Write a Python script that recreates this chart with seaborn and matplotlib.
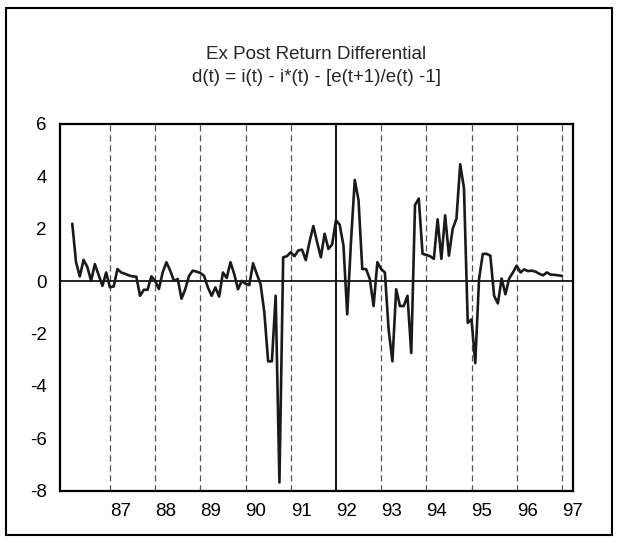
import numpy as np
import pandas as pd
import matplotlib
matplotlib.use("Agg")
import matplotlib.pyplot as plt
import seaborn as sns
from matplotlib.patches import Rectangle

# monthly ex post return differential, Feb 1986 .. Dec 1996
diff_values = [
    2.19, 0.72, 0.18, 0.81, 0.54, 0.01, 0.65, 0.23, -0.18, 0.33,
    -0.24, -0.2, 0.46, 0.33, 0.28, 0.22, 0.18, 0.17, -0.56, -0.33,
    -0.33, 0.18, 0.01, -0.3, 0.33, 0.72, 0.4, 0.01, 0.08, -0.67,
    -0.31, 0.2, 0.4, 0.36, 0.31, 0.2, -0.24, -0.56, -0.24, -0.59,
    0.33, 0.12, 0.72, 0.27, -0.31, 0.01, -0.1, -0.15, 0.68, 0.27,
    -0.12, -1.2, -3.06, -3.06, -0.56, -7.68, 0.91, 0.95, 1.1, 0.95,
    1.17, 1.2, 0.8, 1.5, 2.1, 1.49, 0.91, 1.81, 1.23, 1.4,
    2.32, 2.15, 1.36, -1.27, 1.5, 3.86, 3.09, 0.46, 0.46, 0.08,
    -0.95, 0.72, 0.46, 0.33, -1.85, -3.06, -0.31, -0.95, -0.95, -0.56,
    -2.74, 2.9, 3.15, 1.04, 1.0, 0.95, 0.85, 2.36, 0.85, 2.51,
    0.97, 2.0, 2.38, 4.46, 3.54, -1.59, -1.46, -3.13, 0.08, 1.04,
    1.04, 0.97, -0.56, -0.85, 0.1, -0.5, 0.1, 0.33, 0.59, 0.33,
    0.45, 0.38, 0.4, 0.36, 0.28, 0.22, 0.33, 0.25, 0.24, 0.22,
    0.2,
]
start_year = 86
start_month = 2
year_ticks = list(range(87, 98))
year_labels = [str(y) for y in year_ticks]
y_ticks = [-8, -6, -4, -2, 0, 2, 4, 6]

dates = [start_year + (start_month + i) / 12 for i in range(len(diff_values))]
df = pd.DataFrame({"date": dates, "d": diff_values})

sns.set_style("white")
plt.rcParams["font.family"] = ["Liberation Sans", "DejaVu Sans"]

fig = plt.figure(figsize=(6.18, 5.43), dpi=100)
ax = fig.add_axes([0.097, 0.096, 0.83, 0.676])

# year separators
for yr in year_ticks:
    if yr == 92:
        ax.axvline(yr, color="black", lw=1.3, zorder=1)
    else:
        ax.axvline(yr, color="#555555", lw=0.9, ls=(0, (5, 3)), zorder=1)
ax.axhline(0, color="black", lw=1.2, zorder=1)

sns.lineplot(data=df, x="date", y="d", ax=ax, color="#1a1a1a", lw=1.9, zorder=3)

ax.set_xlim(85.894, 97.243)
ax.set_ylim(-8, 6)
ax.set_xticks(year_ticks)
ax.set_xticklabels(year_labels, ha="left")
ax.set_yticks(y_ticks)
ax.set_yticklabels([str(v) for v in y_ticks])
ax.tick_params(axis="both", direction="out", length=6, width=1.2, labelsize=13.5, colors="black")
ax.tick_params(axis="x", pad=3)
ax.set_xlabel("")
ax.set_ylabel("")
for s in ax.spines.values():
    s.set_color("black")
    s.set_linewidth(1.6)

ax.text(0.5, 1.188, "Ex Post Return Differential", transform=ax.transAxes,
        ha="center", va="center", fontsize=13.5)
ax.text(0.5, 1.125, "d(t) = i(t) - i*(t) - [e(t+1)/e(t) -1]", transform=ax.transAxes,
        ha="center", va="center", fontsize=13.5)

# outer frame of the exhibit
fig.patches.append(Rectangle((0.01, 0.015), 0.98, 0.97, transform=fig.transFigure,
                             fill=False, edgecolor="black", lw=1.5))

fig.savefig("out.png", dpi=100)
